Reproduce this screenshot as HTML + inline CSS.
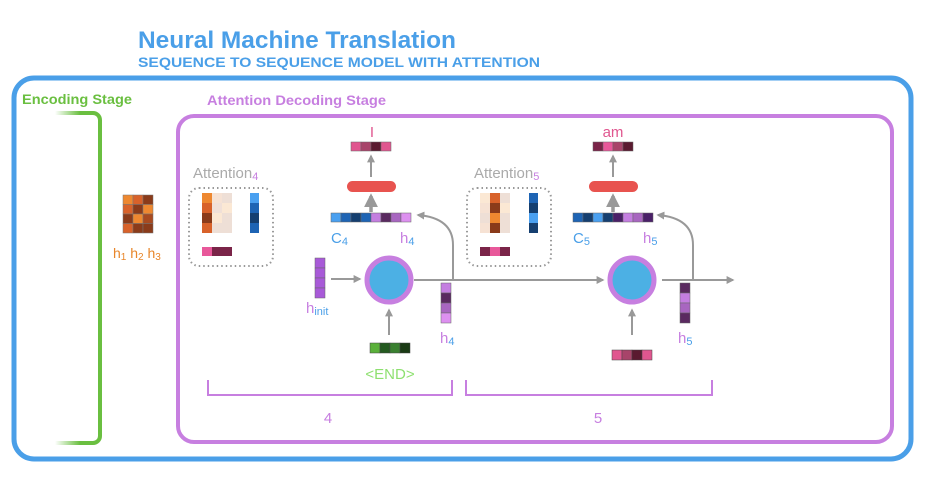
<!DOCTYPE html>
<html><head><meta charset="utf-8"><style>
html,body{margin:0;padding:0;background:#fff;}
svg{display:block;font-family:"Liberation Sans","DejaVu Sans",sans-serif;}
</style></head><body>
<svg width="934" height="477" viewBox="0 0 934 477" xmlns="http://www.w3.org/2000/svg">
<defs>
<linearGradient id="gf" gradientUnits="userSpaceOnUse" x1="55" x2="80" y1="0" y2="0">
<stop offset="0" stop-color="#6abf40" stop-opacity="0"/><stop offset="1" stop-color="#6abf40" stop-opacity="1"/></linearGradient>
<marker id="ar" viewBox="0 0 10 10" refX="8" refY="5" markerWidth="4" markerHeight="4" orient="auto"><path d="M0,0L10,5L0,10z" fill="#999"/></marker>
</defs>
<text x="138" y="48" font-size="24" font-weight="bold" fill="#4a9fe8" textLength="318" lengthAdjust="spacingAndGlyphs">Neural Machine Translation</text>
<text x="138" y="67" font-size="14" font-weight="bold" fill="#4a9fe8" textLength="402" lengthAdjust="spacingAndGlyphs">SEQUENCE TO SEQUENCE MODEL WITH ATTENTION</text>
<rect x="14" y="78" width="897" height="381" rx="20" fill="none" stroke="#4a9fe8" stroke-width="5"/>
<rect x="178" y="116" width="714" height="326" rx="16" fill="none" stroke="#c77fe0" stroke-width="4"/>
<text x="22" y="104" font-size="14" font-weight="bold" fill="#6abf40" textLength="110" lengthAdjust="spacingAndGlyphs">Encoding Stage</text>
<text x="207" y="105" font-size="14" font-weight="bold" fill="#c77fe0" textLength="179" lengthAdjust="spacingAndGlyphs">Attention Decoding Stage</text>
<path d="M80,113H93a7,7 0 0 1 7,7V436a7,7 0 0 1 -7,7H80" fill="none" stroke="#6abf40" stroke-width="4"/>
<rect x="55" y="111" width="26" height="4" fill="url(#gf)"/>
<rect x="55" y="441" width="26" height="4" fill="url(#gf)"/>
<!-- encoder matrix -->
<g stroke="#777" stroke-width="0.5">
<rect x="123" y="195" width="10" height="9.5" fill="#ee8830"/><rect x="133" y="195" width="10" height="9.5" fill="#d8622a"/><rect x="143" y="195" width="10" height="9.5" fill="#8a3b1a"/>
<rect x="123" y="204.5" width="10" height="9.5" fill="#d8622a"/><rect x="133" y="204.5" width="10" height="9.5" fill="#8a3b1a"/><rect x="143" y="204.5" width="10" height="9.5" fill="#ee8830"/>
<rect x="123" y="214" width="10" height="9.5" fill="#8a3b1a"/><rect x="133" y="214" width="10" height="9.5" fill="#ee8830"/><rect x="143" y="214" width="10" height="9.5" fill="#a84a20"/>
<rect x="123" y="223.5" width="10" height="9.5" fill="#d8622a"/><rect x="133" y="223.5" width="10" height="9.5" fill="#8a3b1a"/><rect x="143" y="223.5" width="10" height="9.5" fill="#8a3b1a"/>
</g>
<text x="113" y="258" font-size="14" fill="#e8862a">h<tspan font-size="10" dy="2">1</tspan><tspan dy="-2"> h</tspan><tspan font-size="10" dy="2">2</tspan><tspan dy="-2"> h</tspan><tspan font-size="10" dy="2">3</tspan></text>

<!-- Attention 4 -->
<text x="193" y="178" font-size="15" fill="#aaa">Attention<tspan font-size="11" fill="#c77fe0" dy="2">4</tspan></text>
<rect x="189" y="188" width="84" height="78" rx="10" fill="none" stroke="#999" stroke-width="2" stroke-dasharray="1.5,3"/>
<g>
<rect x="202" y="193" width="10" height="10" fill="#ee8830"/><rect x="212" y="193" width="10" height="10" fill="#f6e2d4"/><rect x="222" y="193" width="10" height="10" fill="#eedfd6"/>
<rect x="202" y="203" width="10" height="10" fill="#d8622a"/><rect x="212" y="203" width="10" height="10" fill="#f0e0d8"/><rect x="222" y="203" width="10" height="10" fill="#fbe8d4"/>
<rect x="202" y="213" width="10" height="10" fill="#8a3b1a"/><rect x="212" y="213" width="10" height="10" fill="#fbe8d4"/><rect x="222" y="213" width="10" height="10" fill="#eedfd6"/>
<rect x="202" y="223" width="10" height="10" fill="#d8622a"/><rect x="212" y="223" width="10" height="10" fill="#eedfd6"/><rect x="222" y="223" width="10" height="10" fill="#eedfd6"/>
<rect x="250" y="193" width="9" height="10" fill="#4aa0f0"/><rect x="250" y="203" width="9" height="10" fill="#1e64b4"/><rect x="250" y="213" width="9" height="10" fill="#153f70"/><rect x="250" y="223" width="9" height="10" fill="#1e64b4"/>
<rect x="202" y="247" width="10" height="9" fill="#e8589a"/><rect x="212" y="247" width="10" height="9" fill="#7a2448"/><rect x="222" y="247" width="10" height="9" fill="#7a2448"/>
</g>
<!-- Attention 5 -->
<text x="474" y="178" font-size="15" fill="#aaa">Attention<tspan font-size="11" fill="#c77fe0" dy="2">5</tspan></text>
<rect x="467" y="188" width="84" height="78" rx="10" fill="none" stroke="#999" stroke-width="2" stroke-dasharray="1.5,3"/>
<g>
<rect x="480" y="193" width="10" height="10" fill="#fbe8d4"/><rect x="490" y="193" width="10" height="10" fill="#d8622a"/><rect x="500" y="193" width="10" height="10" fill="#eedfd6"/>
<rect x="480" y="203" width="10" height="10" fill="#f6e2d4"/><rect x="490" y="203" width="10" height="10" fill="#8a3b1a"/><rect x="500" y="203" width="10" height="10" fill="#fbe8d4"/>
<rect x="480" y="213" width="10" height="10" fill="#eedfd6"/><rect x="490" y="213" width="10" height="10" fill="#ee8830"/><rect x="500" y="213" width="10" height="10" fill="#eedfd6"/>
<rect x="480" y="223" width="10" height="10" fill="#f6e2d4"/><rect x="490" y="223" width="10" height="10" fill="#8a3b1a"/><rect x="500" y="223" width="10" height="10" fill="#eedfd6"/>
<rect x="529" y="193" width="9" height="10" fill="#1e64b4"/><rect x="529" y="203" width="9" height="10" fill="#153f70"/><rect x="529" y="213" width="9" height="10" fill="#4aa0f0"/><rect x="529" y="223" width="9" height="10" fill="#153f70"/>
<rect x="480" y="247" width="10" height="9" fill="#7a2448"/><rect x="490" y="247" width="10" height="9" fill="#e8589a"/><rect x="500" y="247" width="10" height="9" fill="#7a2448"/>
</g>

<!-- Step 4 -->
<text x="372" y="137" font-size="15" fill="#e0568f" text-anchor="middle">I</text>
<g stroke="#666" stroke-width="0.5">
<rect x="351" y="142" width="10" height="9" fill="#e0568f"/><rect x="361" y="142" width="10" height="9" fill="#a8446a"/><rect x="371" y="142" width="10" height="9" fill="#5a1a30"/><rect x="381" y="142" width="10" height="9" fill="#e0568f"/>
</g>
<line x1="371" y1="177" x2="371" y2="156" stroke="#999" stroke-width="2" marker-end="url(#ar)"/>
<rect x="347" y="181" width="49" height="11" rx="5.5" fill="#e8534f"/>
<line x1="371" y1="212" x2="371" y2="196" stroke="#999" stroke-width="3.5" marker-end="url(#ar)"/>
<g stroke="#666" stroke-width="0.5">
<rect x="331" y="213" width="10" height="9" fill="#4aa0f0"/><rect x="341" y="213" width="10" height="9" fill="#1e64b4"/><rect x="351" y="213" width="10" height="9" fill="#153f70"/><rect x="361" y="213" width="10" height="9" fill="#1e64b4"/>
<rect x="371" y="213" width="10" height="9" fill="#c47ee0"/><rect x="381" y="213" width="10" height="9" fill="#5a2a60"/><rect x="391" y="213" width="10" height="9" fill="#a866c0"/><rect x="401" y="213" width="10" height="9" fill="#dd90f0"/>
</g>
<text x="331" y="243" font-size="15" fill="#4a9fe8">C<tspan font-size="11" dy="2">4</tspan></text>
<text x="400" y="243" font-size="15" fill="#c77fe0">h<tspan font-size="11" dy="2" fill="#4a9fe8">4</tspan></text>
<g stroke="#666" stroke-width="0.5">
<rect x="315" y="258" width="10" height="10" fill="#a85ad8"/><rect x="315" y="268" width="10" height="10" fill="#a85ad8"/><rect x="315" y="278" width="10" height="10" fill="#a85ad8"/><rect x="315" y="288" width="10" height="10" fill="#a85ad8"/>
</g>
<text x="306" y="313" font-size="15" fill="#c77fe0">h<tspan font-size="11" dy="2" fill="#4a9fe8">init</tspan></text>
<line x1="331" y1="279" x2="360" y2="279" stroke="#999" stroke-width="2" marker-end="url(#ar)"/>
<circle cx="389" cy="280" r="22" fill="#4cb0e4" stroke="#c77fe0" stroke-width="5"/>
<line x1="389" y1="335" x2="389" y2="310" stroke="#999" stroke-width="2" marker-end="url(#ar)"/>
<g stroke="#444" stroke-width="0.5">
<rect x="370" y="343" width="10" height="10" fill="#5ab03a"/><rect x="380" y="343" width="10" height="10" fill="#245a20"/><rect x="390" y="343" width="10" height="10" fill="#3a8030"/><rect x="400" y="343" width="10" height="10" fill="#1a3a14"/>
</g>
<text x="390" y="379" font-size="15" fill="#8ee070" text-anchor="middle">&lt;END&gt;</text>
<line x1="414" y1="280" x2="603" y2="280" stroke="#999" stroke-width="2" marker-end="url(#ar)"/>
<path d="M453,280V245Q453,218 418,215" fill="none" stroke="#999" stroke-width="2" marker-end="url(#ar)"/>
<g stroke="#666" stroke-width="0.5">
<rect x="441" y="283" width="10" height="10" fill="#c47ee0"/><rect x="441" y="293" width="10" height="10" fill="#5a2a60"/><rect x="441" y="303" width="10" height="10" fill="#a866c0"/><rect x="441" y="313" width="10" height="10" fill="#dd90f0"/>
</g>
<text x="440" y="343" font-size="15" fill="#c77fe0">h<tspan font-size="11" dy="2" fill="#4a9fe8">4</tspan></text>

<!-- Step 5 -->
<text x="613" y="137" font-size="15" fill="#e0568f" text-anchor="middle">am</text>
<g stroke="#666" stroke-width="0.5">
<rect x="593" y="142" width="10" height="9" fill="#7a2448"/><rect x="603" y="142" width="10" height="9" fill="#e8589a"/><rect x="613" y="142" width="10" height="9" fill="#a8446a"/><rect x="623" y="142" width="10" height="9" fill="#5a1a30"/>
</g>
<line x1="613" y1="177" x2="613" y2="156" stroke="#999" stroke-width="2" marker-end="url(#ar)"/>
<rect x="589" y="181" width="49" height="11" rx="5.5" fill="#e8534f"/>
<line x1="613" y1="212" x2="613" y2="196" stroke="#999" stroke-width="3.5" marker-end="url(#ar)"/>
<g stroke="#666" stroke-width="0.5">
<rect x="573" y="213" width="10" height="9" fill="#1e64b4"/><rect x="583" y="213" width="10" height="9" fill="#153f70"/><rect x="593" y="213" width="10" height="9" fill="#4aa0f0"/><rect x="603" y="213" width="10" height="9" fill="#153f70"/>
<rect x="613" y="213" width="10" height="9" fill="#4a2068"/><rect x="623" y="213" width="10" height="9" fill="#c47ee0"/><rect x="633" y="213" width="10" height="9" fill="#a866c0"/><rect x="643" y="213" width="10" height="9" fill="#4a2068"/>
</g>
<text x="573" y="243" font-size="15" fill="#4a9fe8">C<tspan font-size="11" dy="2">5</tspan></text>
<text x="643" y="243" font-size="15" fill="#c77fe0">h<tspan font-size="11" dy="2" fill="#4a9fe8">5</tspan></text>
<circle cx="632" cy="280" r="22" fill="#4cb0e4" stroke="#c77fe0" stroke-width="5"/>
<line x1="632" y1="335" x2="632" y2="310" stroke="#999" stroke-width="2" marker-end="url(#ar)"/>
<g stroke="#444" stroke-width="0.5">
<rect x="612" y="350" width="10" height="10" fill="#e0568f"/><rect x="622" y="350" width="10" height="10" fill="#a8446a"/><rect x="632" y="350" width="10" height="10" fill="#5a1a30"/><rect x="642" y="350" width="10" height="10" fill="#e0568f"/>
</g>
<line x1="662" y1="280" x2="733" y2="280" stroke="#999" stroke-width="2" marker-end="url(#ar)"/>
<path d="M693,280V245Q693,218 658,215" fill="none" stroke="#999" stroke-width="2" marker-end="url(#ar)"/>
<g stroke="#666" stroke-width="0.5">
<rect x="680" y="283" width="10" height="10" fill="#5a2a60"/><rect x="680" y="293" width="10" height="10" fill="#c47ee0"/><rect x="680" y="303" width="10" height="10" fill="#a866c0"/><rect x="680" y="313" width="10" height="10" fill="#5a2a60"/>
</g>
<text x="678" y="343" font-size="15" fill="#c77fe0">h<tspan font-size="11" dy="2" fill="#4a9fe8">5</tspan></text>

<!-- brackets -->
<path d="M208,380V395H452V380" fill="none" stroke="#c77fe0" stroke-width="2"/>
<path d="M466,380V395H712V380" fill="none" stroke="#c77fe0" stroke-width="2"/>
<text x="328" y="423" font-size="15" fill="#c77fe0" text-anchor="middle">4</text>
<text x="598" y="423" font-size="15" fill="#c77fe0" text-anchor="middle">5</text>
</svg>
</body></html>
